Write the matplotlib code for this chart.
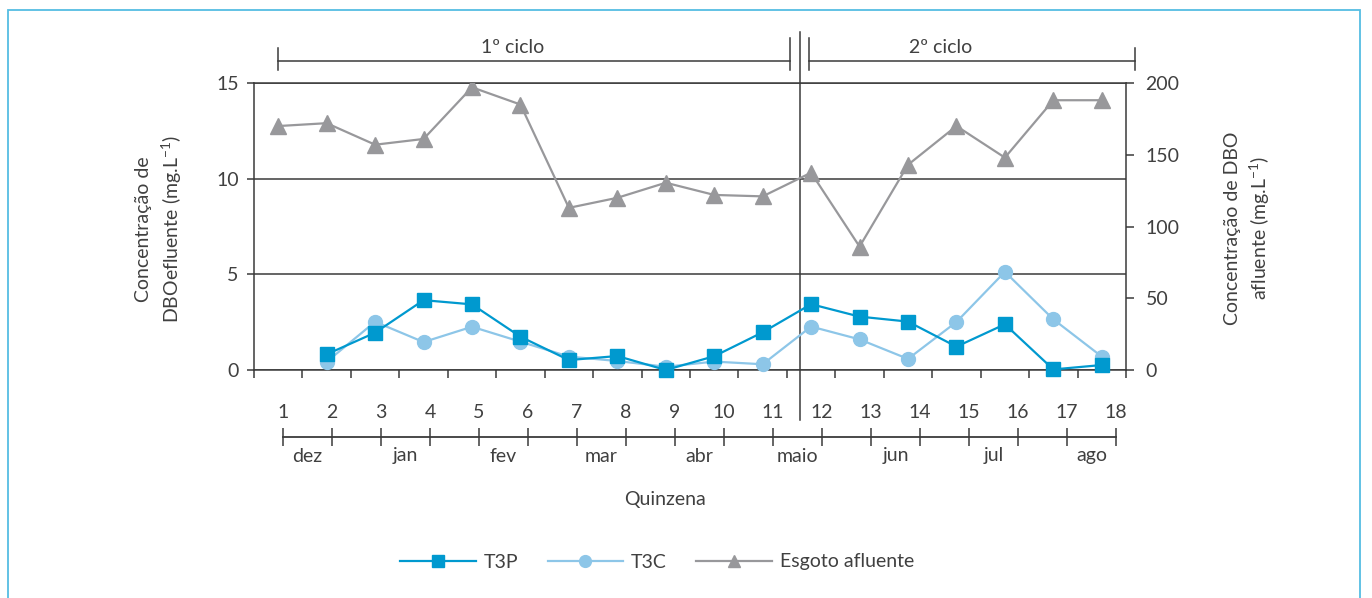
import matplotlib
matplotlib.use('Agg')
import matplotlib.pyplot as plt
from matplotlib.patches import Rectangle

# ---------------- data ----------------
quinzena = list(range(1, 19))
t3p_q = list(range(2, 19))
t3p = [0.82, 1.95, 3.65, 3.43, 1.74, 0.52, 0.73, 0.0, 0.72, 1.97, 3.44, 2.79, 2.53, 1.22, 2.39, 0.03, 0.26]
t3c = [0.43, 2.52, 1.46, 2.26, 1.48, 0.70, 0.47, 0.17, 0.44, 0.30, 2.27, 1.60, 0.58, 2.51, 5.13, 2.65, 0.70]
esgoto = [170, 172, 157, 161, 197, 185, 113, 120, 130.5, 122, 121, 137.5, 86, 143, 170, 148, 188, 188]
months = ['dez', 'jan', 'fev', 'mar', 'abr', 'maio', 'jun', 'jul', 'ago']
left_ticks = [0, 5, 10, 15]
right_ticks = [0, 50, 100, 150, 200]
cycle_labels = ['1º ciclo', '2º ciclo']

# ---------------- style ----------------
W, H = 1372, 598
FONT = ['Lato', 'DejaVu Sans']
plt.rcParams['font.family'] = FONT
plt.rcParams['font.weight'] = 'normal'
plt.rcParams['mathtext.fontset'] = 'custom'
plt.rcParams['mathtext.rm'] = 'Lato'
plt.rcParams['mathtext.default'] = 'rm'
TXT = '#404040'
AX = '#3a3a3a'
C_T3P = '#0099cf'
C_T3C = '#8dc6e8'
C_ESG = '#98989b'
FS = 14

fig = plt.figure(figsize=(W / 100, H / 100), dpi=100)

def fx(px):
    return px / W

def fy(py):
    return 1 - py / H

# light blue frame
fig.patches.append(Rectangle((fx(8), fy(640)), fx(1360) - fx(8), fy(10) - fy(640),
                             transform=fig.transFigure, fill=False,
                             edgecolor='#55bde3', linewidth=1.3))

# main axes: x 254..1126 px, y 83..370 px
ax = fig.add_axes([fx(254), fy(370), fx(1126) - fx(254), fy(83) - fy(370)])
ax.set_xlim(0.5, 18.5)
ax.set_ylim(0, 15)
ax.set_xticks([q + 0.5 for q in [0] + quinzena])
ax.set_xticklabels([])
ax.set_yticks(left_ticks)
ax.set_yticklabels([str(v) for v in left_ticks], fontsize=FS, color=TXT)
ax.tick_params(axis='x', direction='out', length=6, width=1.1, color=AX)
ax.tick_params(axis='y', direction='out', length=5, width=1.1, color=AX, pad=6)
ax.yaxis.grid(True, color=AX, linewidth=1.1)
ax.set_axisbelow(True)
for s in ['left', 'bottom', 'top']:
    ax.spines[s].set_color(AX)
    ax.spines[s].set_linewidth(1.1)
ax.spines['right'].set_visible(False)

ax.plot(t3p_q, t3p, color=C_T3P, linewidth=1.6, marker='s', markersize=10,
        markerfacecolor=C_T3P, markeredgecolor=C_T3P, label='T3P', zorder=4, clip_on=False)
ax.plot(t3p_q, t3c, color=C_T3C, linewidth=1.6, marker='o', markersize=10,
        markerfacecolor=C_T3C, markeredgecolor=C_T3C, label='T3C', zorder=3, clip_on=False)

ax2 = ax.twinx()
ax2.set_ylim(0, 200)
ax2.set_yticks(right_ticks)
ax2.set_yticklabels([str(v) for v in right_ticks], fontsize=FS, color=TXT)
ax2.tick_params(axis='y', direction='out', length=6, width=1.1, color=AX, pad=8)
for s in ['left', 'bottom', 'top']:
    ax2.spines[s].set_visible(False)
ax2.spines['right'].set_color(AX)
ax2.spines['right'].set_linewidth(1.1)
ax2.plot(quinzena, esgoto, color=C_ESG, linewidth=1.6, marker='^', markersize=11,
         markerfacecolor=C_ESG, markeredgecolor=C_ESG, label='Esgoto afluente', zorder=2)

def af(py):
    return (370 - py) / 287

xt = ax.get_xaxis_transform()
# separator between cycles
ax.plot([11.77, 11.77], [af(32), af(420)], color=AX, linewidth=1.1, transform=xt, clip_on=False)
# cycle brackets
brackets = [(1.0, 11.57), (11.96, 18.69)]
for (x0, x1) in brackets:
    ax.plot([x0, x1], [af(60.5), af(60.5)], color=AX, linewidth=1.1, transform=xt, clip_on=False)
    ax.plot([x0, x0], [af(48 if x0 < 5 else 38), af(70)], color=AX, linewidth=1.1, transform=xt, clip_on=False)
    ax.plot([x1, x1], [af(38 if x1 < 15 else 48), af(70)], color=AX, linewidth=1.1, transform=xt, clip_on=False)
ax.text(5.83, af(53), cycle_labels[0], transform=xt, ha='center', va='baseline', fontsize=FS, color=TXT)
ax.text(14.67, af(53), cycle_labels[1], transform=xt, ha='center', va='baseline', fontsize=FS, color=TXT)

# timeline axes (pixel y coordinates), x 283..1116 px -> quinzena 1..18
tl = fig.add_axes([fx(283), fy(480), fx(1116) - fx(283), fy(390) - fy(480)])
tl.set_xlim(1, 18)
tl.set_ylim(480, 390)
tl.axis('off')
for q in quinzena:
    tl.text(q, 412, str(q), ha='center', va='center', fontsize=FS, color=TXT, clip_on=False)
tl.plot([quinzena[0], quinzena[-1]], [437, 437], color=AX, linewidth=1.3, clip_on=False)
tl.vlines(quinzena, 428, 446, color=AX, linewidth=1.1, clip_on=False)
for i, m in enumerate(months):
    tl.text(1.5 + 2 * i, 456, m, ha='center', va='center', fontsize=FS, color=TXT, clip_on=False)

fig.text(fx(665), fy(499), 'Quinzena', ha='center', va='center', fontsize=FS, color=TXT)

fig.text(fx(159.5), fy(229), 'Concentração de\nDBOefluente (mg.L$^{-1}$)', rotation=90,
         ha='center', va='center', fontsize=FS, color=TXT, linespacing=1.4, multialignment='center')
fig.text(fx(1248), fy(228), 'Concentração de DBO\nafluente (mg.L$^{-1}$)', rotation=90,
         ha='center', va='center', fontsize=FS, color=TXT, linespacing=1.4, multialignment='center')

h1, l1 = ax.get_legend_handles_labels()
h2, l2 = ax2.get_legend_handles_labels()
fig.legend(h1 + h2, l1 + l2, loc='center', bbox_to_anchor=(fx(657), fy(562)), ncol=3,
           frameon=False, fontsize=FS, numpoints=1, handlelength=3.9, handletextpad=0.4,
           columnspacing=1.5, labelcolor=TXT, markerscale=0.85)

fig.savefig('out.png', dpi=100)
